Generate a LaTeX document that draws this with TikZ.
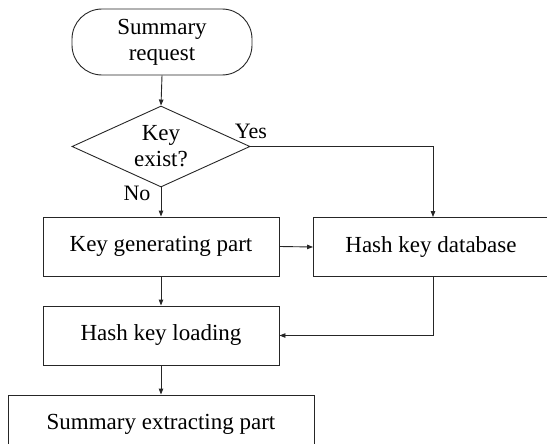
\documentclass[tikz,border=0pt]{standalone}
\usepackage{fontspec}
\setmainfont{Liberation Serif}
\usetikzlibrary{shapes.geometric,arrows.meta}
\begin{document}
\begin{tikzpicture}[x=1pt,y=1pt,
  every node/.style={font=\fontsize{23}{26}\selectfont, text=black},
  box/.style={draw=black!85, line width=0.9pt, rectangle, minimum height=59pt, inner sep=0pt},
  term/.style={draw=black!85, line width=0.9pt, rectangle, rounded corners=30pt, minimum width=180pt, minimum height=66pt, align=center, inner sep=0pt},
  decide/.style={draw=black!85, line width=0.9pt, diamond, aspect=2.2, minimum width=178pt, minimum height=81pt, align=center, inner sep=0pt},
  conn/.style={draw=black!85, line width=0.9pt, -{Triangle[length=6pt,width=4.5pt]}},
  lbl/.style={font=\fontsize{22}{24}\selectfont}
]
\useasboundingbox (0,0) rectangle (547,-444);
\node[term] (start) at (162,-42) {Summary\\request};
\node[decide] (dia) at (161,-146.5) {Key\\exist?};
\node[box, minimum width=236pt] (kg) at (161,-246.5) {Key generating part};
\node[box, minimum width=235pt] (hdb) at (431,-247) {Hash key database};
\node[box, minimum width=236pt] (hkl) at (161,-335.5) {Hash key loading};
\node[box, minimum width=306pt] (se) at (161,-424.5) {Summary extracting part};
\coordinate (yesturn) at (433,-146.5);
\node[lbl] (yes) at (251,-131) {Yes};
\node[lbl] (no) at (137,-193) {No};
\draw[conn] (start.south) -- (dia.north);
\draw[conn] (dia.south) -- (kg.north);
\draw[conn] (dia.east) -- (yesturn) -- (yesturn |- hdb.north);
\draw[conn] (kg.east) -- (hdb.west);
\draw[conn] (yesturn |- hdb.south) |- (hkl.east);
\draw[conn] (kg.south) -- (hkl.north);
\draw[conn] (hkl.south) -- (se.north);
\end{tikzpicture}
\end{document}
